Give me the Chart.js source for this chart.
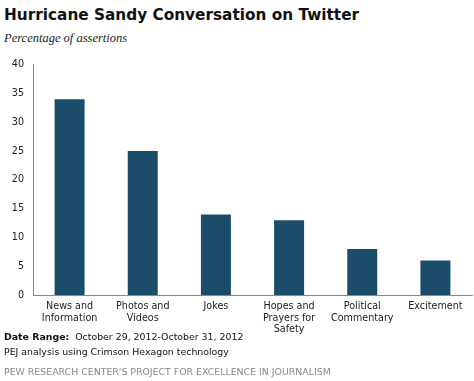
<!DOCTYPE html>
<html><head><meta charset="utf-8">
<script src="https://cdn.jsdelivr.net/npm/chart.js@4/dist/chart.umd.min.js"></script>
<style>
html,body{margin:0;padding:0;background:#fff;width:474px;height:381px;overflow:hidden;position:relative;font-family:"DejaVu Sans",Verdana,sans-serif;}
#title{position:absolute;left:4px;top:6px;font-size:15.3px;font-weight:bold;color:#111;}
#sub{position:absolute;left:4px;top:31px;font-family:"Liberation Serif","Times New Roman",serif;font-style:italic;font-size:12.5px;color:#222;}
#wrap{position:absolute;left:0;top:50px;width:474px;height:290px;}
#f1{position:absolute;left:4px;top:331px;font-size:9.4px;color:#111;}
#f2{position:absolute;left:4px;top:346px;font-size:9.4px;color:#111;}
#f3{position:absolute;left:4px;top:366px;font-size:9.4px;color:#888;letter-spacing:0;}
</style></head><body>
<div id="title">Hurricane Sandy Conversation on Twitter</div>
<div id="sub">Percentage of assertions</div>
<div id="wrap"><canvas id="c"></canvas></div>
<div id="f1"><b>Date Range:</b>&nbsp; October 29, 2012-October 31, 2012</div>
<div id="f2">PEJ analysis using Crimson Hexagon technology</div>
<div id="f3">PEW RESEARCH CENTER'S PROJECT FOR EXCELLENCE IN JOURNALISM</div>
<script>
const categories = [["News and","Information"],["Photos and","Videos"],["Jokes"],["Hopes and","Prayers for","Safety"],["Political","Commentary"],["Excitement"]];
const values = [34, 25, 14, 13, 8, 6];
const yTicks = [0,5,10,15,20,25,30,35,40];

new Chart(document.getElementById('c'), {
  type:'bar',
  data:{labels:categories,datasets:[{data:values,backgroundColor:'#1b4d6b',categoryPercentage:1,barPercentage:0.41}]},
  options:{
    responsive:true,maintainAspectRatio:false,animation:false,
    layout:{padding:{top:10,right:2,left:0,bottom:0}},
    plugins:{legend:{display:false},tooltip:{enabled:false}},
    scales:{
      x:{grid:{display:false,drawTicks:false},border:{display:true,color:'#888',width:1},
         ticks:{color:'#222',font:{family:'DejaVu Sans',size:9.6},padding:6,maxRotation:0,autoSkip:false},
         afterFit:s=>{s.height=45;}},
      y:{min:0,max:40,grid:{display:false,drawTicks:false},border:{display:true,color:'#888',width:1},
         afterBuildTicks:s=>{s.ticks=yTicks.map(v=>({value:v}));},
         ticks:{color:'#222',font:{family:'DejaVu Sans',size:9.6},padding:9},
         afterFit:s=>{s.width=33;}}
    }
  }
});
</script>
</body></html>
